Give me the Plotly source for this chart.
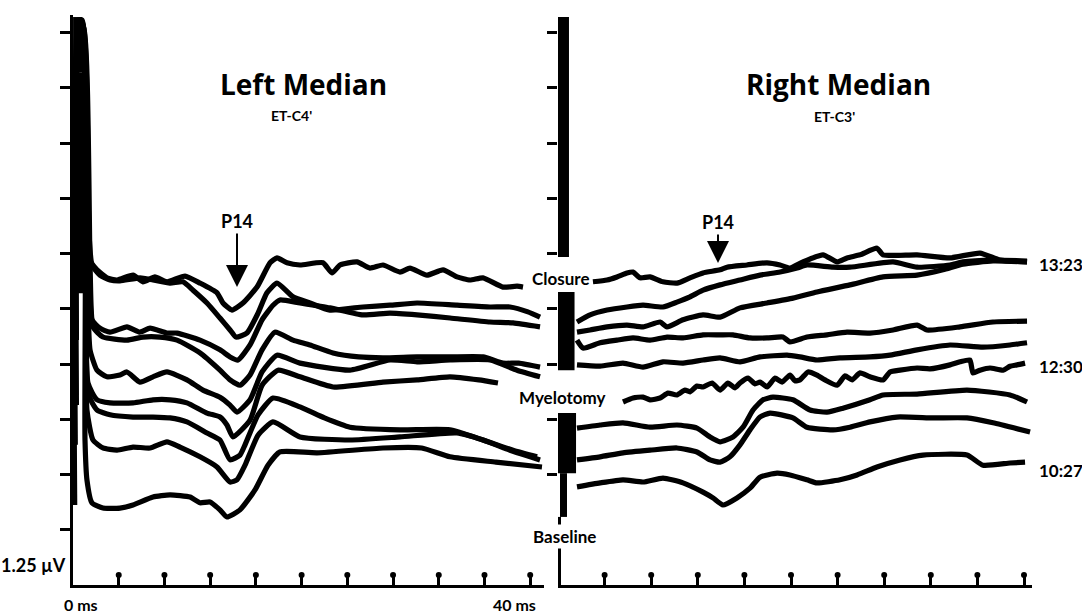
import plotly.graph_objects as go

# ---------------- DATA (time in ms, amplitude in µV as stacked on the page) ----------------
# Left Median (ET-C4') traces, top to bottom
L1_t = [0.15, 0.45, 0.8, 1.2, 1.49, 2.10, 2.97, 3.85, 5.25, 6.12, 7.17, 8.22, 9.80, 11.11, 12.60, 13.12, 13.91, 14.87, 16.10, 17.24, 17.85, 18.72, 19.86, 21.87, 22.66, 23.36, 24.85, 25.98, 27.12, 28.61, 29.48, 30.97, 32.37, 33.60, 34.73, 35.87, 37.62, 38.85, 39.37]
L1_v = [6.99, 12.78, 12.78, 8.71, 7.35, 7.13, 6.95, 6.90, 7.01, 6.86, 6.97, 6.86, 6.99, 6.83, 6.61, 6.38, 6.22, 6.38, 6.74, 7.29, 7.40, 7.29, 7.24, 7.29, 7.06, 7.24, 7.31, 7.17, 7.24, 7.08, 7.17, 7.01, 7.13, 6.97, 6.90, 6.95, 6.74, 6.76, 6.74]

L2_t = [0.2, 0.5, 0.85, 1.3, 1.66, 2.36, 3.24, 4.11, 5.86, 7.00, 8.49, 9.62, 10.50, 11.72, 12.86, 13.74, 14.26, 15.22, 16.19, 16.97, 17.85, 19.25, 20.73, 22.48, 25.37, 27.73, 30.10, 33.60, 36.48, 38.23, 39.80, 40.86]
L2_v = [6.90, 12.74, 12.74, 8.48, 7.24, 7.01, 6.90, 6.88, 6.95, 6.90, 6.83, 6.86, 6.67, 6.38, 6.04, 5.77, 5.61, 5.70, 6.15, 6.61, 6.83, 6.52, 6.38, 6.22, 6.29, 6.33, 6.38, 6.33, 6.29, 6.29, 6.18, 6.06]

L3_t = [0.25, 0.55, 0.9, 1.4, 1.66, 2.36, 3.24, 4.72, 5.86, 6.74, 8.22, 9.10, 11.11, 12.86, 13.74, 14.44, 15.49, 16.54, 17.50, 18.11, 19.86, 22.48, 25.37, 27.73, 30.10, 33.0, 36.48, 38.5, 40.86]
L3_v = [5.77, 12.67, 12.67, 7.58, 6.00, 5.81, 5.72, 5.84, 5.72, 5.81, 5.70, 5.70, 5.54, 5.32, 5.16, 5.09, 5.43, 6.00, 6.33, 6.45, 6.38, 6.27, 6.11, 6.15, 6.11, 6.04, 5.95, 5.93, 5.84]

L4_t = [0.3, 0.6, 0.95, 1.5, 1.75, 2.62, 4.72, 6.12, 7.61, 9.10, 11.11, 12.86, 13.74, 14.61, 15.49, 16.54, 17.67, 19.25, 20.73, 22.75, 25.0, 27.12, 30.10, 33.0, 35.87, 37.62, 39.0, 40.86]
L4_v = [5.54, 12.60, 12.60, 7.13, 5.84, 5.61, 5.54, 5.61, 5.61, 5.54, 5.25, 4.86, 4.64, 4.52, 4.75, 5.32, 5.72, 5.54, 5.43, 5.25, 5.16, 5.14, 5.16, 5.16, 5.16, 5.02, 5.02, 4.93]

L5_t = [0.2, 0.5, 0.85, 1.3, 1.49, 2.10, 2.97, 4.11, 4.72, 5.86, 7.00, 8.22, 9.97, 11.37, 12.86, 13.74, 14.35, 15.49, 16.54, 17.85, 19.86, 24.23, 27.73, 30.10, 33.0, 36.48, 38.85, 40.86]
L5_v = [4.64, 12.56, 12.56, 6.45, 5.32, 4.86, 4.71, 4.75, 4.82, 4.59, 4.71, 4.82, 4.64, 4.41, 4.25, 4.07, 3.91, 4.19, 4.82, 5.20, 5.02, 4.86, 5.09, 5.05, 5.09, 5.09, 4.86, 4.71]

L6_t = [0.25, 0.55, 0.9, 1.31, 2.10, 3.24, 5.25, 7.00, 8.49, 9.97, 11.72, 12.86, 13.47, 14.00, 15.49, 16.54, 17.94, 19.86, 22.75, 27.12, 30.10, 32.98, 35.5, 37.18]
L6_v = [4.30, 12.51, 12.51, 4.57, 4.19, 4.12, 4.12, 4.19, 4.19, 4.12, 3.89, 3.80, 3.62, 3.35, 3.73, 4.52, 4.86, 4.71, 4.48, 4.59, 4.64, 4.71, 4.64, 4.57]

L7_t = [0.3, 0.6, 0.95, 1.31, 2.10, 3.24, 5.25, 7.00, 8.49, 9.97, 11.72, 12.86, 13.74, 14.61, 15.05, 16.19, 17.50, 19.86, 22.0, 24.23, 28.61, 32.98, 35.87, 38.5, 40.60]
L7_v = [4.07, 12.44, 12.44, 4.34, 3.96, 3.85, 3.80, 3.80, 3.78, 3.69, 3.44, 3.28, 2.83, 2.94, 3.17, 3.85, 4.23, 4.03, 3.78, 3.57, 3.51, 3.51, 3.28, 3.05, 2.90]

L8_t = [0.2, 0.5, 0.85, 1.22, 1.75, 2.62, 3.85, 5.25, 6.74, 8.22, 9.36, 11.11, 12.60, 13.74, 14.35, 15.05, 16.19, 17.50, 19.86, 24.23, 28.61, 33.60, 35.87, 38.23, 40.86]
L8_v = [3.17, 12.38, 12.38, 3.96, 3.28, 3.10, 3.05, 3.12, 3.10, 3.24, 3.12, 2.90, 2.67, 2.33, 2.38, 2.71, 3.39, 3.69, 3.35, 3.28, 3.35, 3.44, 3.28, 3.05, 2.83]

L9_t = [0.15, 0.45, 0.8, 1.05, 1.22, 1.66, 2.62, 4.11, 5.25, 7.00, 8.49, 10.24, 11.11, 11.99, 12.86, 13.47, 14.61, 15.92, 17.06, 18.11, 21.35, 27.12, 30.5, 32.98, 37.0, 41.03]
L9_v = [1.81, 12.33, 12.33, 3.28, 2.38, 1.86, 1.74, 1.74, 1.81, 1.99, 2.04, 1.99, 1.86, 1.88, 1.70, 1.54, 1.70, 2.15, 2.71, 3.01, 2.99, 3.10, 3.10, 2.90, 2.78, 2.67]

# Right Median (ET-C3') traces, top to bottom
R1_t = [3.00, 4.21, 5.06, 5.92, 6.44, 7.04, 7.90, 9.01, 10.21, 11.33, 12.45, 13.91, 14.51, 16.22, 17.94, 19.06, 19.91, 21.03, 22.75, 23.95, 24.81, 25.92, 27.38, 27.90, 30.82, 33.65, 36.22, 37.94, 40.26]
R1_v = [6.86, 6.90, 6.97, 7.06, 7.08, 6.95, 6.97, 6.86, 6.83, 6.95, 7.06, 7.13, 7.19, 7.24, 7.29, 7.24, 7.17, 7.31, 7.47, 7.31, 7.40, 7.47, 7.62, 7.47, 7.47, 7.40, 7.51, 7.35, 7.31]

R2_t = [1.63, 2.75, 4.21, 5.92, 7.30, 9.01, 10.21, 11.33, 12.45, 13.91, 15.62, 17.34, 19.06, 20.52, 21.37, 23.61, 25.06, 28.76, 30.82, 33.65, 34.76, 37.34, 40.26]
R2_v = [5.95, 6.11, 6.22, 6.29, 6.33, 6.29, 6.40, 6.52, 6.67, 6.79, 6.90, 7.01, 7.08, 7.17, 7.24, 7.19, 7.19, 7.31, 7.19, 7.24, 7.31, 7.35, 7.33]

R3_t = [1.63, 2.75, 4.21, 5.92, 7.30, 8.76, 9.36, 10.73, 12.45, 13.91, 15.62, 17.94, 20.17, 22.23, 25.06, 27.90, 30.82, 33.05, 34.76, 37.34, 40.26]
R3_v = [5.72, 5.77, 5.84, 5.88, 5.84, 5.95, 5.84, 6.00, 6.11, 6.06, 6.27, 6.38, 6.49, 6.63, 6.79, 6.97, 7.01, 7.13, 7.26, 7.33, 7.31]

R4_t = [1.63, 2.15, 3.61, 5.06, 6.44, 7.90, 9.36, 10.73, 12.45, 13.91, 15.02, 16.48, 17.94, 19.31, 19.91, 21.37, 23.09, 24.81, 26.78, 28.76, 30.82, 31.67, 34.51, 37.34, 40.26]
R4_v = [5.54, 5.36, 5.48, 5.54, 5.59, 5.54, 5.61, 5.59, 5.66, 5.66, 5.66, 5.59, 5.59, 5.61, 5.50, 5.61, 5.66, 5.72, 5.70, 5.77, 5.88, 5.77, 5.84, 5.95, 5.97]

R5_t = [1.63, 3.61, 5.58, 7.30, 9.01, 10.73, 12.45, 13.91, 15.62, 17.34, 19.66, 20.77, 22.23, 24.21, 26.78, 28.50, 30.82, 33.65, 36.48, 38.80, 40.26]
R5_v = [4.98, 4.95, 5.02, 4.93, 5.05, 5.02, 5.09, 5.14, 5.05, 5.16, 5.20, 5.16, 5.09, 5.14, 5.16, 5.20, 5.32, 5.43, 5.38, 5.43, 5.48]

R6_t = [5.58, 6.44, 7.30, 7.90, 8.76, 9.44, 10.21, 10.90, 11.33, 11.93, 12.45, 13.22, 13.91, 14.59, 15.19, 15.62, 16.31, 16.91, 17.34, 17.94, 18.63, 19.23, 19.91, 20.34, 20.77, 21.46, 22.23, 22.92, 23.95, 24.64, 25.24, 25.92, 26.78, 27.90, 28.50, 29.36, 30.82, 31.93, 33.65, 34.51, 35.36, 35.62, 36.22, 37.08, 38.20, 38.80, 39.40, 40.09]
R6_v = [4.14, 4.23, 4.25, 4.19, 4.23, 4.34, 4.30, 4.41, 4.37, 4.50, 4.48, 4.57, 4.41, 4.57, 4.46, 4.57, 4.68, 4.55, 4.59, 4.48, 4.68, 4.59, 4.75, 4.62, 4.64, 4.82, 4.75, 4.64, 4.52, 4.73, 4.64, 4.80, 4.71, 4.64, 4.82, 4.86, 4.91, 4.89, 4.98, 5.05, 5.09, 4.80, 4.86, 4.91, 4.86, 4.95, 4.98, 5.02]

R7_t = [1.63, 3.61, 5.58, 7.90, 10.21, 11.93, 13.05, 13.91, 15.02, 15.88, 16.74, 17.60, 18.45, 20.17, 21.63, 23.09, 24.46, 26.78, 27.90, 30.82, 35.11, 38.80, 40.26]
R7_v = [3.55, 3.62, 3.67, 3.57, 3.62, 3.55, 3.35, 3.24, 3.35, 3.57, 3.96, 4.19, 4.25, 4.19, 3.96, 3.91, 4.00, 4.19, 4.30, 4.32, 4.41, 4.30, 4.14]

R8_t = [1.63, 3.61, 5.58, 7.90, 10.21, 11.93, 13.05, 13.91, 14.76, 15.62, 16.48, 17.34, 18.20, 20.17, 21.37, 23.61, 25.06, 26.78, 29.10, 32.19, 35.11, 37.34, 40.52]
R8_v = [2.83, 2.90, 2.99, 3.05, 3.10, 3.01, 2.83, 2.78, 2.90, 3.17, 3.51, 3.80, 3.89, 3.78, 3.57, 3.51, 3.57, 3.69, 3.80, 3.78, 3.78, 3.67, 3.46]

R9_t = [1.63, 3.61, 5.58, 7.30, 9.01, 10.73, 12.45, 13.30, 14.16, 15.36, 16.48, 17.34, 18.80, 19.91, 21.37, 22.23, 24.21, 25.67, 27.38, 29.36, 31.33, 35.11, 36.48, 38.80, 40.09]
R9_v = [2.22, 2.31, 2.38, 2.33, 2.42, 2.31, 2.10, 1.97, 1.81, 1.97, 2.19, 2.44, 2.53, 2.49, 2.38, 2.31, 2.38, 2.49, 2.67, 2.83, 2.94, 2.94, 2.71, 2.76, 2.78]

# Stimulus-artifact blocks: time (ms), top and bottom (µV)
L_artifact_t = [0.40, 0.62]
L_artifact_top = [12.85, 11.60]
L_artifact_bottom = [11.60, 6.60]
R_artifact_t = [0.47, 0.69, 0.69, 0.47]
R_artifact_top = [12.85, 6.63, 3.89, 2.53]
R_artifact_bottom = [7.42, 4.86, 2.53, 1.54]

# Axis ticks
x_ticks_ms = [4, 8, 12, 16, 20, 24, 28, 32, 36, 40]
y_ticks_uv = [1.25, 2.5, 3.75, 5.0, 6.25, 7.5, 8.75, 10.0, 11.25, 12.5]

# Text
panel_titles = ["Left Median", "Right Median"]
panel_montages = ["ET-C4'", "ET-C3'"]
stage_labels = ["Closure", "Myelotomy", "Baseline"]
time_labels = ["13:23", "12:30", "10:27"]

left_traces = [(L1_t, L1_v), (L2_t, L2_v), (L3_t, L3_v), (L4_t, L4_v), (L5_t, L5_v),
               (L6_t, L6_v), (L7_t, L7_v), (L8_t, L8_v), (L9_t, L9_v)]
right_traces = [(R1_t, R1_v), (R2_t, R2_v), (R3_t, R3_v), (R4_t, R4_v), (R5_t, R5_v),
                (R6_t, R6_v), (R7_t, R7_v), (R8_t, R8_v), (R9_t, R9_v)]

# ---------------- FIGURE ----------------
LW = 5.2
fig = go.Figure()


def add_line(x, y, xa, ya, w, shape="linear"):
    fig.add_trace(go.Scatter(x=x, y=y, mode="lines", xaxis=xa, yaxis=ya,
                             line=dict(color="black", width=w, shape=shape,
                                       smoothing=0.5 if shape == "spline" else None),
                             showlegend=False, hoverinfo="skip"))


for t, v in left_traces:
    add_line(t, v, "x", "y", LW, "spline")
for t, v in right_traces:
    add_line(t, v, "x2", "y2", LW, "spline")

for t, top, bot, w in zip(L_artifact_t, L_artifact_top, L_artifact_bottom, [9, 16]):
    add_line([t, t], [top, bot], "x", "y", w)
for t, top, bot, w in zip(R_artifact_t, R_artifact_top, R_artifact_bottom, [11, 17, 20, 7]):
    add_line([t, t], [top, bot], "x2", "y2", w)
# lower stub of the right-hand amplitude axis (below the last artifact block)
add_line([0, 0], [0, min(R_artifact_bottom)], "x2", "y2", 6)

W, H = 1082, 615
ML, MR, MT, MB = 0, 0, 15, 30
PX_MS_L = 11.43
PX_MS_R = 11.65
PX_UV = 44.2
plot_h = H - MT - MB

# rounded tops of the time-axis ticks
tick_top_uv = 10 / PX_UV
for xa_name, ya_name in [("x", "y"), ("x2", "y2")]:
    fig.add_trace(go.Scatter(x=x_ticks_ms, y=[tick_top_uv] * len(x_ticks_ms), mode="markers",
                             xaxis=xa_name, yaxis=ya_name,
                             marker=dict(color="black", size=6, symbol="circle"),
                             showlegend=False, hoverinfo="skip"))


def px_x(px):
    return px / W


def px_y(py):
    return (H - MB - py) / plot_h


xa = dict(showline=True, linecolor="black", linewidth=3, ticks="inside",
          tickvals=x_ticks_ms, ticklen=10, tickwidth=3, tickcolor="black",
          showticklabels=False, showgrid=False, zeroline=False)
ya = dict(linecolor="black", linewidth=3, ticks="outside",
          tickvals=y_ticks_uv, ticklen=10, tickwidth=3, tickcolor="black",
          showticklabels=False, showgrid=False, zeroline=False,
          range=[0, plot_h / PX_UV], domain=[0, 1])

left_x0, left_x1 = 73, 544
right_x0, right_x1 = 558, 1032

fig.update_layout(
    width=W, height=H,
    margin=dict(l=ML, r=MR, t=MT, b=MB),
    paper_bgcolor="white", plot_bgcolor="white",
    xaxis=dict(**xa, domain=[px_x(left_x0), px_x(left_x1)],
               range=[0, (left_x1 - left_x0) / PX_MS_L], anchor="y"),
    yaxis=dict(**ya, showline=True, anchor="x"),
    xaxis2=dict(**xa, domain=[px_x(right_x0), px_x(right_x1)],
                range=[0, (right_x1 - right_x0) / PX_MS_R], anchor="y2"),
    yaxis2=dict(**ya, showline=False, anchor="x2"),
)

LBL = "Lato, Open Sans, sans-serif"
TITLE_FONT = "Open Sans, Lato, sans-serif"
anns = []


def lab(text, px, py, size, family=LBL, bold=True, bg=None, xanchor="center"):
    d = dict(text=("<b>%s</b>" % text) if bold else text, x=px_x(px), y=px_y(py),
             xref="paper", yref="paper", showarrow=False, xanchor=xanchor, yanchor="middle",
             font=dict(family=family, size=size, color="black"))
    if bg:
        d["bgcolor"] = bg
        d["borderpad"] = 1
    anns.append(d)


lab(panel_titles[0], 303, 84, 28, family=TITLE_FONT)
lab(panel_titles[1], 838, 84, 28, family=TITLE_FONT)
lab(panel_montages[0], 291, 115, 14)
lab(panel_montages[1], 834, 116, 14)
lab(stage_labels[0], 560, 278, 17, bg="white")
lab(stage_labels[1], 562, 397, 17, bg="white")
lab(stage_labels[2], 564, 536, 17, bg="white")
lab(time_labels[0], 1061, 264, 17)
lab(time_labels[1], 1061, 367, 17)
lab(time_labels[2], 1061, 470, 17)
lab("1.25 µV", 68, 565, 18, xanchor="right")
lab("0 ms", 81, 604, 16)
lab("40 ms", 514, 604, 16)

# P14 markers with arrows
for tip_px, tip_py, txt_py in [(237, 287, 221), (718, 263, 222)]:
    anns.append(dict(text="<b>P14</b>", x=px_x(tip_px), y=px_y(tip_py), xref="paper", yref="paper",
                     showarrow=True, ax=0, ay=txt_py - tip_py, arrowhead=2, arrowsize=2.2,
                     arrowwidth=2, arrowcolor="black", standoff=0,
                     font=dict(family=LBL, size=18, color="black")))

fig.update_layout(annotations=anns)
fig.write_html("out.html", config={"displayModeBar": False},
               post_script="document.body.style.margin='0';document.body.style.padding='0';")
